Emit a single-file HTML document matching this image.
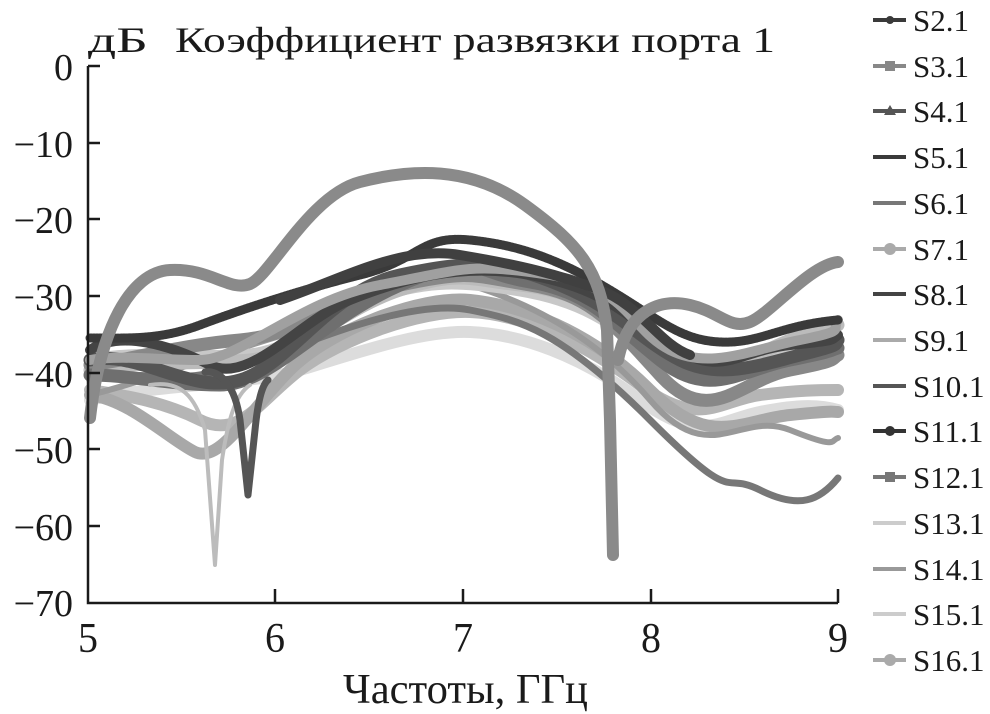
<!DOCTYPE html>
<html><head><meta charset="utf-8"><style>
html,body{margin:0;padding:0;background:#fff;width:990px;height:714px;overflow:hidden}
svg{display:block}
text{font-family:"Liberation Serif","DejaVu Serif",serif;fill:#1a1a1a}
</style></head><body>
<svg width="990" height="714" viewBox="0 0 990 714" xmlns="http://www.w3.org/2000/svg">
<text x="88" y="52" font-size="36" textLength="60" lengthAdjust="spacingAndGlyphs">дБ</text>
<text x="175" y="52" font-size="36" textLength="600" lengthAdjust="spacingAndGlyphs">Коэффициент развязки порта 1</text>
<g font-size="38" text-anchor="end">
<text x="73" y="80">0</text>
<text x="73" y="157">−10</text>
<text x="73" y="233">−20</text>
<text x="73" y="310">−30</text>
<text x="73" y="387">−40</text>
<text x="73" y="463">−50</text>
<text x="73" y="540">−60</text>
<text x="73" y="616">−70</text>
</g>
<g font-size="42" text-anchor="middle">
<text x="88" y="652" textLength="20" lengthAdjust="spacingAndGlyphs">5</text>
<text x="275" y="652" textLength="20" lengthAdjust="spacingAndGlyphs">6</text>
<text x="463" y="652" textLength="20" lengthAdjust="spacingAndGlyphs">7</text>
<text x="651" y="652" textLength="20" lengthAdjust="spacingAndGlyphs">8</text>
<text x="838" y="652" textLength="20" lengthAdjust="spacingAndGlyphs">9</text>
</g>
<text x="343" y="703" font-size="42" textLength="245" lengthAdjust="spacingAndGlyphs">Частоты, ГГц</text>
<g fill="none" stroke-linecap="round" stroke-linejoin="round">
<path d="M90,400 C150,385 250,385 300,370 S420,330 470,332 S580,355 640,400 S720,420 760,412 S820,405 838,410" stroke="#dcdcdc" stroke-width="12"/>
<path d="M90,390 C120,395 160,400 200,420 S260,400 300,370 S420,310 470,312 S580,340 640,385 S720,400 760,395 S820,390 838,390" stroke="#b5b5b5" stroke-width="12"/>
<path d="M90,395 C130,400 170,440 195,452 S250,410 290,370 S420,295 470,300 S590,330 650,390 S740,420 790,415 S830,412 838,412" stroke="#a8a8a8" stroke-width="12"/>
<path d="M90,380 C120,370 170,380 200,375 S260,360 300,345 S420,300 470,310 S560,330 650,420 S720,470 760,490 S820,500 838,478" stroke="#777" stroke-width="7"/>
<path d="M90,395 C150,380 230,350 300,330 S420,270 470,285 S590,330 650,400 S740,410 790,430 S830,440 838,438" stroke="#999" stroke-width="6"/>
<path d="M90,360 C150,350 200,360 250,355 S330,310 380,295 S460,280 520,290 S610,320 660,360 S740,370 790,350 S830,345 838,340" stroke="#c8c8c8" stroke-width="13"/>
<path d="M90,370 C150,360 200,365 250,360 S340,310 400,290 S470,280 520,285 S610,310 660,350 S740,360 790,340 S830,330 838,325" stroke="#bbb" stroke-width="13"/>
<path d="M90,365 C130,360 180,345 240,340 S330,300 400,285 S470,275 530,285 S610,320 660,375 S740,380 790,370 S830,360 838,355" stroke="#888" stroke-width="13"/>
<path d="M90,375 C130,375 170,385 220,385 S320,320 400,285 S470,272 530,282 S610,320 660,360 S740,370 790,360 S830,350 838,348" stroke="#6f6f6f" stroke-width="13"/>
<path d="M90,360 C140,350 190,395 240,380 S330,290 400,275 S500,260 560,285 S640,340 680,360 S760,365 800,355 S835,345 838,340" stroke="#555" stroke-width="13"/>
<path d="M90,350 C120,330 170,345 210,365 S300,320 350,300 S460,262 530,275 S620,310 670,345 S740,350 790,345 S830,340 838,335" stroke="#444" stroke-width="10"/>
<path d="M90,360 C120,355 160,360 200,360 S300,300 380,285 S470,262 550,275 S630,330 670,350 S750,350 800,340 S830,330 838,320" stroke="#a0a0a0" stroke-width="10"/>
<path d="M90,338 C130,338 160,340 200,325 S300,290 360,275 S420,235 470,240 S560,260 610,290 S680,340 720,342 S780,325 838,320" stroke="#3a3a3a" stroke-width="9" stroke-dasharray="2 1"/>
<path d="M280,300 C340,280 400,245 460,255 S560,275 600,290 S660,345 690,355" stroke="#404040" stroke-width="10"/>
<path d="M150,385 C180,380 195,395 205,430 L215,565 L222,460 C228,420 235,395 250,385" stroke="#bcbcbc" stroke-width="4"/>
<path d="M205,372 C220,370 235,385 240,420 L248,495 L255,430 C258,400 262,385 268,380" stroke="#555" stroke-width="7"/>
<path d="M90,418 C100,330 130,272 170,270 S230,292 250,284 S310,195 360,182 S470,165 525,205 S600,270 607,330 L610,420 L613,555" stroke="#8a8a8a" stroke-width="12"/>
<path d="M613,555 L611,400" stroke="#8a8a8a" stroke-width="5"/>
<path d="M618,360 C628,310 660,298 690,305 S730,330 750,322 S810,265 838,262" stroke="#8a8a8a" stroke-width="12"/>
</g>
<g stroke="#1a1a1a" stroke-width="2.5" fill="none">
<path d="M88,66 V603 H838"/>
<path d="M88,66h12M88,143h12M88,219h12M88,296h12M88,373h12M88,449h12M88,526h12"/>
<path d="M275,603v-14M463,603v-14M651,603v-14M838,603v-14"/>
</g>
<g font-size="31">
<g stroke-width="4">
<line x1="873" x2="906" y1="20" y2="20" stroke="#3a3a3a"/>
<line x1="873" x2="906" y1="66" y2="66" stroke="#888"/>
<line x1="873" x2="906" y1="111" y2="111" stroke="#555"/>
<line x1="873" x2="906" y1="157" y2="157" stroke="#3a3a3a"/>
<line x1="873" x2="906" y1="203" y2="203" stroke="#777"/>
<line x1="873" x2="906" y1="249" y2="249" stroke="#aaa"/>
<line x1="873" x2="906" y1="294" y2="294" stroke="#444"/>
<line x1="873" x2="906" y1="340" y2="340" stroke="#aaa"/>
<line x1="873" x2="906" y1="386" y2="386" stroke="#555"/>
<line x1="873" x2="906" y1="431" y2="431" stroke="#333"/>
<line x1="873" x2="906" y1="477" y2="477" stroke="#777"/>
<line x1="873" x2="906" y1="523" y2="523" stroke="#ccc"/>
<line x1="873" x2="906" y1="569" y2="569" stroke="#999"/>
<line x1="873" x2="906" y1="614" y2="614" stroke="#ccc"/>
<line x1="873" x2="906" y1="660" y2="660" stroke="#aaa"/>
</g>
<circle cx="890" cy="20" r="4" fill="#3a3a3a"/>
<rect x="885" y="61" width="10" height="10" fill="#888"/>
<polygon points="890,105 896,115 884,115" fill="#555"/>
<circle cx="890" cy="249" r="6" fill="#aaa"/>
<circle cx="890" cy="431" r="5" fill="#333"/>
<rect x="885" y="472" width="10" height="10" fill="#777"/>
<circle cx="890" cy="660" r="6" fill="#aaa"/>
<text x="913" y="31">S2.1</text>
<text x="913" y="77">S3.1</text>
<text x="913" y="122">S4.1</text>
<text x="913" y="168">S5.1</text>
<text x="913" y="214">S6.1</text>
<text x="913" y="260">S7.1</text>
<text x="913" y="305">S8.1</text>
<text x="913" y="351">S9.1</text>
<text x="913" y="397">S10.1</text>
<text x="913" y="442">S11.1</text>
<text x="913" y="488">S12.1</text>
<text x="913" y="534">S13.1</text>
<text x="913" y="580">S14.1</text>
<text x="913" y="625">S15.1</text>
<text x="913" y="671">S16.1</text>
</g>
</svg>
</body></html>
